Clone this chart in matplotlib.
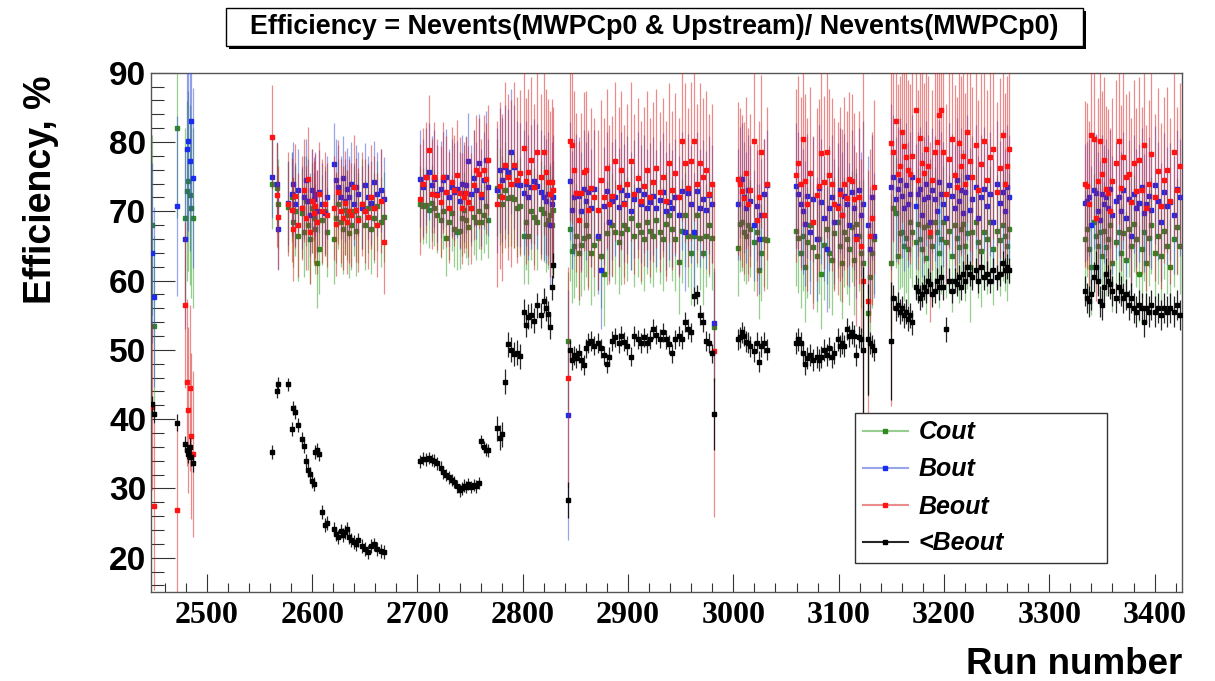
import numpy as np
import matplotlib.pyplot as plt
from matplotlib.patches import Rectangle
from matplotlib.lines import Line2D
from matplotlib.ticker import MultipleLocator

# ---- data (run groups separated by gaps) ----
run_a = [2448, 2450, 2472, 2479, 2481, 2482, 2484, 2485, 2487]
cout_a = [68.0, 53.5, 82.0, 69.0, 72.9, 74.4, 72.3, 70.5, 69.0]
bout_a = [64.0, 57.6, 70.7, 66.0, 79.0, 80.1, 77.3, 83.0, 74.8]
beout_a = [41.8, 27.4, 26.9, 56.5, 45.3, 41.3, 44.5, 37.6, 35.0]
lt_a = [42.2, 40.7, 39.5, 36.4, 35.5, 34.9, 36.0, 34.5, 33.6]

run_b = [2562, 2567, 2568, 2577, 2581, 2582, 2584, 2587, 2590, 2592, 2594, 2596, 2598, 2600,
         2602, 2603, 2605, 2607, 2609, 2612, 2614, 2621, 2623, 2625, 2627, 2629, 2631, 2633,
         2635, 2637, 2640, 2642, 2644, 2647, 2650, 2653, 2656, 2659, 2662, 2665, 2668]
cout_b = [74.0, 73.4, 71.0, 70.6, 72.0, 68.5, 70.0, 66.5, 69.8, 67.0, 71.5, 68.0, 66.0, 70.5,
          69.0, 67.5, 62.5, 64.5, 68.8, 70.0, 67.0, 66.0, 69.0, 71.0, 68.5, 67.5, 70.2, 69.5,
          66.8, 68.0, 70.0, 67.2, 69.0, 71.0, 68.0, 70.5, 67.5, 69.0, 70.8, 68.5, 69.2]
bout_b = [75.0, 74.0, 67.5, 71.2, 72.5, 74.0, 71.0, 73.0, 70.5, 72.0, 74.5, 71.5, 69.5, 73.0,
          71.8, 72.5, 70.0, 72.8, 71.0, 69.8, 72.0, 76.8, 74.5, 73.5, 72.0, 74.8, 71.5, 73.2,
          72.0, 74.0, 71.0, 73.5, 72.5, 70.5, 73.8, 72.0, 71.2, 74.2, 72.5, 73.0, 71.8]
beout_b = [80.7, 72.4, 69.1, 71.0, 70.2, 67.5, 72.2, 68.0, 70.5, 73.0, 69.0, 74.6, 67.0, 71.5,
           69.8, 70.8, 68.5, 72.5, 70.0, 71.0, 69.5, 70.5, 68.2, 72.8, 70.0, 69.0, 71.2, 68.5,
           70.0, 69.5, 73.5, 70.2, 68.8, 71.0, 70.0, 69.2, 72.0, 70.5, 68.0, 71.5, 65.5]
lt_b = [35.2, 44.1, 45.1, 45.0, 38.6, 41.6, 41.0, 39.2, 37.1, 36.1, 34.0, 32.6, 32.1, 31.1,
        30.6, 35.3, 35.6, 34.9, 26.6, 24.7, 25.0, 24.2, 23.4, 23.0, 23.8, 23.3, 23.7, 24.2,
        23.0, 22.6, 22.2, 21.9, 22.6, 21.7, 21.2, 20.8, 21.7, 21.9, 21.3, 20.9, 20.8]

run_c = [2702, 2705, 2708, 2711, 2714, 2716, 2719, 2722, 2724, 2727, 2730, 2733, 2735, 2738,
         2740, 2742, 2744, 2746, 2748, 2751, 2754, 2756, 2758, 2760, 2763, 2765, 2767]
cout_c = [71.0, 70.8, 70.9, 70.2, 71.2, 70.5, 69.5, 68.8, 70.0, 66.2, 68.5, 69.8, 67.5, 67.0,
          67.2, 69.0, 70.2, 68.8, 67.8, 70.5, 69.2, 68.4, 70.0, 68.5, 69.5, 70.8, 68.8]
bout_c = [74.7, 73.5, 75.0, 75.7, 73.8, 74.7, 72.5, 73.2, 74.5, 74.9, 72.0, 73.5, 72.8, 73.2,
          71.5, 74.0, 72.6, 73.8, 77.2, 72.5, 74.8, 73.0, 77.0, 72.0, 74.5, 77.4, 73.5]
beout_c = [71.7, 74.0, 74.9, 78.8, 72.5, 74.9, 72.4, 71.4, 74.9, 72.8, 70.5, 74.2, 73.0, 75.2,
           72.7, 70.4, 72.0, 72.7, 71.4, 70.4, 73.8, 75.9, 75.4, 72.5, 75.9, 74.7, 77.4]
lt_c = [33.9, 34.3, 34.2, 34.4, 34.1, 34.0, 33.6, 33.0, 32.3, 31.9, 31.6, 31.2, 30.9, 30.3,
        29.7, 30.0, 30.4, 30.2, 30.6, 30.2, 30.5, 30.3, 30.8, 36.8, 36.0, 35.6, 35.5]

run_d = [2776, 2778, 2780, 2783, 2786, 2789, 2792, 2795, 2797, 2801, 2803, 2805, 2808, 2811,
         2814, 2817, 2820, 2822, 2824, 2826, 2828, 2829]
cout_d = [73.4, 72.2, 71.0, 73.0, 71.9, 72.0, 71.7, 70.4, 70.8, 66.5, 68.5, 66.5, 70.0, 69.2,
          68.5, 70.3, 69.7, 68.2, 68.7, 69.5, 68.0, 70.2]
bout_d = [73.0, 75.9, 74.5, 76.4, 75.7, 78.6, 76.4, 74.0, 73.8, 72.7, 74.0, 72.0, 73.5, 74.3,
          73.6, 72.8, 72.0, 71.5, 72.5, 68.0, 71.0, 72.0]
beout_d = [71.0, 73.7, 72.0, 76.7, 74.9, 74.0, 76.7, 74.5, 75.5, 79.1, 74.4, 75.7, 77.4, 73.5,
           78.6, 74.9, 78.6, 75.7, 74.2, 72.5, 74.2, 73.0]
lt_d = [38.7, 37.3, 37.8, 45.4, 50.8, 50.0, 49.4, 49.6, 49.1, 55.5, 53.6, 54.8, 55.0, 54.2,
        56.4, 55.0, 57.1, 56.0, 55.2, 53.3, 59.0, 62.2]

run_e = [2843, 2845, 2847, 2849, 2851, 2853, 2855, 2858, 2860, 2862, 2865, 2868, 2871, 2874,
         2877, 2880, 2882, 2885, 2888, 2891, 2893, 2896, 2899, 2903, 2906, 2909, 2912, 2915,
         2918, 2921, 2924, 2927, 2930, 2933, 2936, 2939, 2942, 2945, 2948, 2951, 2954, 2957,
         2960, 2963, 2965, 2968, 2971, 2974, 2977, 2980, 2982]
cout_e = [51.3, 67.5, 64.2, 65.0, 66.5, 64.0, 65.2, 66.2, 68.0, 66.5, 64.0, 65.2, 66.2, 63.5,
          61.0, 66.8, 68.4, 68.0, 67.0, 65.5, 66.8, 68.0, 67.5, 69.0, 66.5, 68.0, 67.0, 66.0,
          68.5, 67.2, 66.5, 68.8, 67.0, 66.0, 68.2, 69.4, 67.5, 66.0, 62.7, 67.2, 69.4, 66.5,
          64.0, 66.5, 69.4, 66.2, 64.0, 66.5, 68.0, 66.2, 53.3]
bout_e = [40.6, 74.4, 70.2, 72.0, 72.7, 72.2, 70.0, 73.2, 71.5, 72.8, 70.5, 73.2, 66.5, 61.5,
          70.8, 72.9, 68.4, 71.5, 72.0, 70.6, 73.0, 71.2, 72.4, 70.0, 71.8, 73.0, 71.0, 72.5,
          70.5, 71.4, 72.2, 70.4, 71.6, 72.8, 70.0, 71.4, 70.4, 72.0, 69.5, 72.9, 67.0, 72.7,
          71.0, 67.0, 72.9, 70.5, 71.8, 70.2, 72.4, 71.0, 53.8]
beout_e = [46.0, 80.1, 79.6, 75.9, 72.7, 68.7, 72.7, 75.7, 75.9, 70.2, 73.4, 72.0, 70.2, 74.5,
           72.0, 76.2, 71.0, 72.2, 77.2, 73.5, 75.9, 71.0, 74.0, 77.2, 72.5, 74.8, 71.5, 73.6,
           75.9, 72.0, 74.2, 76.2, 72.8, 74.9, 71.5, 77.0, 73.0, 75.5, 72.0, 80.1, 77.0, 73.4,
           77.2, 80.1, 74.0, 77.0, 74.9, 75.9, 72.5, 74.0, 49.9]
lt_e = [28.3, 50.0, 48.5, 49.2, 48.8, 49.5, 48.5, 47.8, 50.2, 51.0, 51.3, 50.6, 51.0, 50.2,
        49.2, 48.0, 49.0, 51.3, 51.8, 51.0, 52.0, 51.2, 50.6, 49.0, 52.0, 51.5, 51.0, 51.8,
        51.0, 51.5, 53.0, 52.2, 51.6, 52.5, 51.5, 50.8, 49.5, 51.5, 52.0, 51.5, 54.0, 53.0,
        52.5, 57.7, 58.0, 55.0, 54.0, 51.3, 51.0, 49.5, 40.7]

run_f = [3004, 3006, 3008, 3010, 3012, 3014, 3016, 3020, 3022, 3024, 3026, 3029, 3032]
cout_f = [64.7, 68.2, 68.4, 67.0, 66.5, 68.0, 67.5, 65.5, 67.0, 61.5, 64.0, 66.0, 65.8]
bout_f = [71.0, 74.2, 74.7, 72.0, 70.5, 73.0, 71.5, 68.0, 70.8, 66.0, 69.5, 72.5, 73.8]
beout_f = [74.7, 73.9, 72.9, 71.9, 75.5, 71.0, 73.0, 80.1, 68.7, 72.0, 78.6, 69.5, 74.0]
lt_f = [51.5, 51.8, 52.5, 52.0, 51.2, 51.0, 50.5, 49.8, 51.0, 48.3, 50.5, 51.0, 50.0]

run_g = [3059, 3061, 3064, 3066, 3068, 3070, 3073, 3076, 3079, 3081, 3083, 3086, 3089, 3091,
         3094, 3096, 3099, 3101, 3103, 3105, 3108, 3110, 3113, 3115, 3116, 3119, 3121, 3123,
         3128, 3130, 3132, 3134]
cout_g = [67.2, 66.2, 64.0, 66.5, 62.0, 65.5, 68.0, 64.8, 63.5, 66.0, 61.0, 65.2, 67.5, 64.0,
          63.0, 66.8, 68.4, 65.0, 62.5, 67.0, 66.0, 64.5, 67.8, 63.0, 68.2, 66.5, 64.0, 62.5,
          55.3, 60.5, 64.0, 66.0]
bout_g = [73.7, 72.5, 71.0, 70.0, 68.2, 72.2, 67.0, 71.7, 66.0, 73.4, 71.4, 69.0, 64.5, 70.4,
          72.0, 68.5, 70.8, 73.0, 69.5, 72.2, 71.0, 68.0, 72.8, 70.5, 66.5, 73.0, 69.5, 71.0,
          68.0, 64.5, 72.0, 66.5]
beout_g = [75.2, 77.0, 74.0, 80.4, 74.4, 71.0, 75.5, 68.4, 72.4, 73.7, 78.4, 74.2, 78.6, 75.2,
           73.9, 71.0, 70.4, 72.5, 69.4, 74.0, 71.9, 74.7, 74.4, 71.7, 66.0, 72.0, 65.0, 60.0,
           57.0, 66.5, 69.0, 73.5]
lt_g = [51.0, 51.5, 51.0, 49.5, 48.0, 48.8, 49.3, 48.5, 49.0, 48.5, 49.0, 50.0, 49.2, 50.2,
        49.0, 49.5, 51.5, 50.5, 51.0, 50.5, 53.0, 52.0, 52.5, 52.0, 49.2, 51.8, 51.5, 50.0,
        51.5, 51.0, 50.5, 50.0]

run_h = [3150, 3152, 3154, 3156, 3158, 3160, 3162, 3164, 3166, 3168, 3170, 3173, 3175, 3177,
         3179, 3181, 3183, 3185, 3187, 3189, 3191, 3193, 3195, 3197, 3199, 3202, 3205, 3208,
         3210, 3212, 3214, 3216, 3218, 3220, 3222, 3225, 3227, 3230, 3232, 3235, 3238, 3241,
         3244, 3247, 3250, 3253, 3256, 3258, 3260, 3262]
cout_h = [62.5, 70.4, 69.8, 63.5, 66.8, 67.0, 65.0, 66.2, 64.5, 68.4, 67.0, 65.5, 68.2, 66.0,
          64.5, 67.8, 63.2, 68.0, 66.5, 65.0, 68.4, 67.0, 64.0, 66.0, 68.5, 65.5, 67.2, 63.5,
          68.0, 66.2, 64.8, 67.5, 68.2, 65.0, 66.8, 62.0, 67.0, 68.4, 65.5, 64.2, 67.0, 66.0,
          68.5, 64.5, 67.2, 65.8, 68.0, 66.5, 65.0, 67.5]
bout_h = [73.5, 74.9, 71.7, 73.2, 74.5, 72.2, 70.4, 73.8, 71.0, 72.5, 74.9, 70.7, 72.5, 73.2,
          69.5, 71.7, 74.0, 72.0, 68.5, 73.0, 71.8, 70.0, 74.2, 72.5, 71.0, 69.0, 73.8, 72.2,
          70.5, 74.5, 71.5, 73.0, 69.8, 72.8, 74.9, 70.2, 71.8, 73.5, 69.0, 72.0, 73.2, 70.8,
          72.5, 68.5, 74.0, 71.2, 72.8, 70.0, 73.5, 72.0]
beout_h = [79.9, 78.5, 83.0, 75.4, 76.5, 81.4, 79.4, 77.8, 76.0, 75.4, 78.0, 84.6, 74.5, 80.6,
           77.0, 75.5, 79.0, 76.5, 67.0, 74.5, 78.5, 80.0, 83.9, 84.6, 78.5, 72.5, 77.5, 80.5,
           75.2, 73.5, 79.9, 76.5, 78.0, 74.0, 81.5, 77.2, 75.0, 79.5, 73.0, 76.8, 80.2, 74.5,
           77.8, 79.0, 72.8, 76.2, 81.0, 74.0, 76.5, 79.0]
lt_h = [51.3, 57.5, 56.0, 56.5, 55.5, 56.0, 55.0, 55.5, 54.5, 55.0, 54.0, 59.0, 58.5, 57.5,
        58.0, 59.0, 58.5, 60.0, 59.5, 58.0, 58.5, 60.0, 59.0, 60.5, 59.0, 53.0, 60.0, 58.5,
        60.0, 59.5, 60.5, 59.0, 61.0, 60.0, 62.0, 61.0, 60.5, 61.5, 60.0, 62.0, 60.5, 61.0,
        60.0, 61.5, 60.5, 61.0, 62.5, 61.5, 62.0, 61.5]

run_i = [3334, 3336, 3338, 3340, 3342, 3344, 3346, 3348, 3350, 3352, 3354, 3356, 3358, 3360,
         3363, 3366, 3368, 3370, 3373, 3376, 3378, 3380, 3382, 3385, 3388, 3390, 3392, 3395,
         3397, 3400, 3403, 3406, 3409, 3412, 3415, 3418, 3421, 3424]
cout_i = [66.0, 67.5, 64.5, 62.0, 68.4, 66.5, 65.0, 67.0, 63.5, 67.2, 64.8, 66.0, 68.0, 62.5,
          65.5, 67.0, 64.0, 66.8, 63.0, 67.5, 65.0, 68.2, 66.0, 61.0, 64.5, 67.0, 62.5, 66.2,
          68.0, 64.0, 66.5, 63.5, 67.2, 65.0, 62.0, 66.0, 67.8, 65.0]
bout_i = [71.2, 71.5, 72.0, 68.0, 73.0, 72.7, 70.0, 68.7, 72.5, 71.0, 72.0, 70.5, 73.2, 69.5,
          71.5, 72.0, 70.0, 73.0, 69.0, 71.8, 66.5, 72.5, 70.5, 71.2, 73.5, 69.8, 71.0, 72.2,
          70.2, 73.8, 71.5, 68.5, 72.8, 70.8, 71.4, 69.5, 73.2, 72.0]
beout_i = [73.9, 73.6, 71.0, 81.0, 80.5, 69.0, 74.4, 80.1, 75.4, 77.4, 73.2, 72.7, 70.0, 74.4,
           76.9, 80.1, 73.4, 77.9, 74.9, 75.4, 71.4, 76.9, 72.9, 77.4, 73.0, 79.5, 70.5, 74.0,
           78.2, 72.0, 75.8, 70.8, 74.5, 76.0, 71.5, 78.5, 73.0, 76.5]
lt_i = [58.5, 57.5, 57.0, 58.0, 60.5, 62.0, 60.0, 57.0, 56.5, 59.0, 61.0, 60.0, 59.5, 58.5,
        57.5, 59.0, 58.5, 57.5, 58.0, 56.5, 57.5, 56.0, 55.5, 56.5, 56.0, 54.0, 56.0, 55.5,
        56.5, 55.5, 56.0, 55.0, 56.0, 55.5, 56.0, 55.5, 56.5, 55.0]

# typical error per run group (Cout, Bout, Beout, <Beout)
err_cout = [13.0, 6.5, 5.5, 7.0, 7.5, 7.0, 8.0, 8.0, 7.0]
err_bout = [13.0, 6.0, 7.0, 9.0, 8.5, 8.0, 9.0, 9.0, 8.5]
err_beout = [12.0, 7.5, 8.0, 12.0, 11.5, 11.0, 12.5, 13.0, 12.0]
err_lt = [1.2, 1.0, 0.9, 1.8, 1.4, 1.5, 1.6, 1.8, 2.2]
# runs with unusually large errors
big_err = {2843: (10, 18, 16, 2.6), 2982: (8, 8, 24, 5.2), 3123: (12, 12, 32, 12),
           3128: (12, 10, 19, 8), 3150: (10, 12, 38, 8.5)}

xticks = [2500, 2600, 2700, 2800, 2900, 3000, 3100, 3200, 3300, 3400]
yticks = [20, 30, 40, 50, 60, 70, 80, 90]
names = ['Cout', 'Bout', 'Beout', '<Beout']

# ---- assemble ----
groups = [
    (run_a, cout_a, bout_a, beout_a, lt_a),
    (run_b, cout_b, bout_b, beout_b, lt_b),
    (run_c, cout_c, bout_c, beout_c, lt_c),
    (run_d, cout_d, bout_d, beout_d, lt_d),
    (run_e, cout_e, bout_e, beout_e, lt_e),
    (run_f, cout_f, bout_f, beout_f, lt_f),
    (run_g, cout_g, bout_g, beout_g, lt_g),
    (run_h, cout_h, bout_h, beout_h, lt_h),
    (run_i, cout_i, bout_i, beout_i, lt_i),
]
seg_err = [err_cout, err_bout, err_beout, err_lt]

runs = np.concatenate([np.array(g[0], float) for g in groups])
vals = [np.concatenate([np.array(g[k + 1], float) for g in groups]) for k in range(4)]
errs = []
for k in range(4):
    e = np.concatenate([np.full(len(g[0]), seg_err[k][i]) for i, g in enumerate(groups)])
    for r, ee in big_err.items():
        e[runs == r] = ee[k]
    errs.append(e)

mcolors = ['#2e8b1e', '#1a2cf0', '#ff1414', 'black']
ecolors = [(0.25, 0.65, 0.2, 0.55), (0.2, 0.3, 0.85, 0.5), (0.85, 0.1, 0.1, 0.5), (0, 0, 0, 0.85)]

fig = plt.figure(figsize=(12.15, 6.81), dpi=100)
ax = fig.add_axes([151 / 1215, 1 - 592.3 / 681, 1031 / 1215, 519.6 / 681])

for k in range(4):
    ax.errorbar(runs, vals[k], yerr=errs[k], fmt='s', ms=2.8, mfc=mcolors[k], mec=mcolors[k],
                ecolor=ecolors[k], elinewidth=0.9, capsize=0, zorder=2 + k)

ax.set_xlim(2447, 3426)
ax.set_ylim(15, 90)

ax.xaxis.set_major_locator(MultipleLocator(100))
ax.xaxis.set_minor_locator(MultipleLocator(20))
ax.yaxis.set_major_locator(MultipleLocator(10))
ax.yaxis.set_minor_locator(MultipleLocator(2))
ax.set_xticks(xticks)
ax.set_xticklabels([str(t) for t in xticks], family='Liberation Serif', weight='bold', size=23)
ax.set_yticks(yticks)
ax.set_yticklabels([str(t) for t in yticks], family='Liberation Sans', weight='bold', size=24)
ax.tick_params(axis='x', which='major', direction='in', length=13, width=0.8, pad=6.5, color='#333333')
ax.tick_params(axis='x', which='minor', direction='in', length=6.5, width=0.8, color='#333333')
ax.tick_params(axis='y', which='major', direction='in', length=17, width=0.8, pad=3.5, color='#333333')
ax.tick_params(axis='y', which='minor', direction='in', length=9.5, width=0.8, color='#333333')
ax.tick_params(top=False, right=False, which='both')
for s in ax.spines.values():
    s.set_color('#555555')
    s.set_linewidth(1.0)

# legend
handles = [Line2D([0], [0], color=ecolors[k], lw=1.5, marker='s', ms=3.5,
                  mfc=mcolors[k], mec=mcolors[k]) for k in range(4)]
leg = ax.legend(handles, names, loc='upper left',
                bbox_to_anchor=(704 / 1031, 179.3 / 519.6, 252 / 1031, 0.0), mode='expand',
                prop={'family': 'Liberation Sans', 'weight': 'bold', 'style': 'italic', 'size': 18},
                handlelength=1.8, handletextpad=0.45, labelspacing=0.52, borderpad=0.3,
                borderaxespad=0, fancybox=False, framealpha=1, edgecolor='#333333')
leg.get_frame().set_linewidth(1.0)
leg.set_zorder(10)

# title box with shadow
bx0, bx1, by0, by1 = 226, 1083, 8, 46
fig.patches.append(Rectangle((bx0 + 3, 681 - by1 - 3), bx1 - bx0, by1 - by0,
                             transform=None, facecolor='black', edgecolor='none'))
fig.patches.append(Rectangle((bx0, 681 - by1), bx1 - bx0, by1 - by0,
                             transform=None, facecolor='white', edgecolor='black', lw=1.0))
fig.text((bx0 + bx1) / 2 / 1215, 1 - (by0 + by1) / 2 / 681,
         'Efficiency = Nevents(MWPCp0 & Upstream)/ Nevents(MWPCp0)',
         ha='center', va='center', family='Liberation Sans', weight='bold', size=19.4)

fig.text(41 / 1215, 1 - 190 / 681, 'Efficiency, %', rotation=90, ha='center', va='center',
         family='Liberation Sans', weight='bold', size=27)
fig.text(1182 / 1215, 1 - 674 / 681, 'Run number', ha='right', va='baseline',
         family='Liberation Sans', weight='bold', size=26.5)

fig.savefig('out.png', dpi=100)
